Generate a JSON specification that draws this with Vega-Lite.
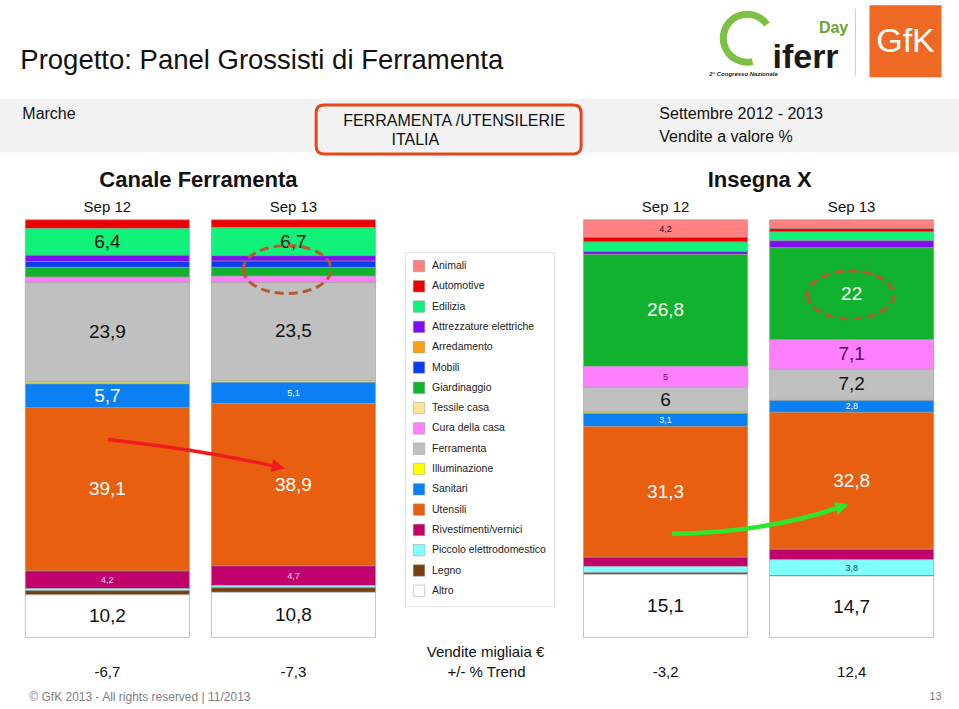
{
  "$schema": "https://vega.github.io/schema/vega-lite/v6.json",
  "width": 959,
  "height": 709,
  "autosize": {"type": "fit", "contains": "padding"},
  "padding": 0,
  "background": "white",
  "config": {
    "view": {"stroke": null},
    "font": "Liberation Sans",
    "locale": {"number": {"decimal": ",", "thousands": ".", "grouping": [3], "currency": ["", " €"], "minus": "-"}},
    "legend": {
      "orient": "none",
      "legendX": 405,
      "legendY": 248,
      "padding": 8,
      "strokeColor": "#e4e4e4",
      "symbolType": "square",
      "symbolSize": 132,
      "symbolStrokeColor": "#999999",
      "symbolStrokeWidth": 0.5,
      "symbolOpacity": 1,
      "labelFont": "Liberation Sans",
      "labelFontSize": 10.5,
      "labelColor": "#222222",
      "labelOffset": 7,
      "labelLimit": 220,
      "rowPadding": 6.3
    }
  },
  "datasets": {
    "segmenti": [
      {"bar": "CF Sep 12", "cat": "Automotive", "value": 2.1},
      {"bar": "CF Sep 12", "cat": "Edilizia", "value": 6.4},
      {"bar": "CF Sep 12", "cat": "Attrezzature elettriche", "value": 1.5},
      {"bar": "CF Sep 12", "cat": "Mobili", "value": 1.4},
      {"bar": "CF Sep 12", "cat": "Giardinaggio", "value": 2.3},
      {"bar": "CF Sep 12", "cat": "Cura della casa", "value": 1.3},
      {"bar": "CF Sep 12", "cat": "Ferramenta", "value": 23.9},
      {"bar": "CF Sep 12", "cat": "Illuminazione", "value": 0.4},
      {"bar": "CF Sep 12", "cat": "Sanitari", "value": 5.7},
      {"bar": "CF Sep 12", "cat": "Utensili", "value": 39.1},
      {"bar": "CF Sep 12", "cat": "Rivestimenti/vernici", "value": 4.2},
      {"bar": "CF Sep 12", "cat": "Piccolo elettrodomestico", "value": 0.5},
      {"bar": "CF Sep 12", "cat": "Legno", "value": 1.0},
      {"bar": "CF Sep 12", "cat": "Altro", "value": 10.2},
      {"bar": "CF Sep 13", "cat": "Automotive", "value": 1.9},
      {"bar": "CF Sep 13", "cat": "Edilizia", "value": 6.7},
      {"bar": "CF Sep 13", "cat": "Attrezzature elettriche", "value": 1.3},
      {"bar": "CF Sep 13", "cat": "Mobili", "value": 1.5},
      {"bar": "CF Sep 13", "cat": "Giardinaggio", "value": 2.1},
      {"bar": "CF Sep 13", "cat": "Cura della casa", "value": 1.5},
      {"bar": "CF Sep 13", "cat": "Ferramenta", "value": 23.5},
      {"bar": "CF Sep 13", "cat": "Illuminazione", "value": 0.4},
      {"bar": "CF Sep 13", "cat": "Sanitari", "value": 5.1},
      {"bar": "CF Sep 13", "cat": "Utensili", "value": 38.9},
      {"bar": "CF Sep 13", "cat": "Rivestimenti/vernici", "value": 4.7},
      {"bar": "CF Sep 13", "cat": "Piccolo elettrodomestico", "value": 0.5},
      {"bar": "CF Sep 13", "cat": "Legno", "value": 1.1},
      {"bar": "CF Sep 13", "cat": "Altro", "value": 10.8},
      {"bar": "IX Sep 12", "cat": "Animali", "value": 4.2},
      {"bar": "IX Sep 12", "cat": "Automotive", "value": 1.1},
      {"bar": "IX Sep 12", "cat": "Edilizia", "value": 2.3},
      {"bar": "IX Sep 12", "cat": "Attrezzature elettriche", "value": 0.7},
      {"bar": "IX Sep 12", "cat": "Giardinaggio", "value": 26.8},
      {"bar": "IX Sep 12", "cat": "Cura della casa", "value": 5},
      {"bar": "IX Sep 12", "cat": "Ferramenta", "value": 6},
      {"bar": "IX Sep 12", "cat": "Illuminazione", "value": 0.3},
      {"bar": "IX Sep 12", "cat": "Sanitari", "value": 3.1},
      {"bar": "IX Sep 12", "cat": "Utensili", "value": 31.3},
      {"bar": "IX Sep 12", "cat": "Rivestimenti/vernici", "value": 2.2},
      {"bar": "IX Sep 12", "cat": "Piccolo elettrodomestico", "value": 1.5},
      {"bar": "IX Sep 12", "cat": "Legno", "value": 0.4},
      {"bar": "IX Sep 12", "cat": "Altro", "value": 15.1},
      {"bar": "IX Sep 13", "cat": "Animali", "value": 2.1},
      {"bar": "IX Sep 13", "cat": "Automotive", "value": 0.8},
      {"bar": "IX Sep 13", "cat": "Edilizia", "value": 2.1},
      {"bar": "IX Sep 13", "cat": "Attrezzature elettriche", "value": 1.7},
      {"bar": "IX Sep 13", "cat": "Giardinaggio", "value": 22},
      {"bar": "IX Sep 13", "cat": "Cura della casa", "value": 7.1},
      {"bar": "IX Sep 13", "cat": "Ferramenta", "value": 7.2},
      {"bar": "IX Sep 13", "cat": "Illuminazione", "value": 0.3},
      {"bar": "IX Sep 13", "cat": "Sanitari", "value": 2.8},
      {"bar": "IX Sep 13", "cat": "Utensili", "value": 32.8},
      {"bar": "IX Sep 13", "cat": "Rivestimenti/vernici", "value": 2.5},
      {"bar": "IX Sep 13", "cat": "Piccolo elettrodomestico", "value": 3.8},
      {"bar": "IX Sep 13", "cat": "Legno", "value": 0.1},
      {"bar": "IX Sep 13", "cat": "Altro", "value": 14.7}
    ],
    "barre": [
      {"bar": "CF Sep 12", "periodo": "Sep 12", "trend": -6.7},
      {"bar": "CF Sep 13", "periodo": "Sep 13", "trend": -7.3},
      {"bar": "IX Sep 12", "periodo": "Sep 12", "trend": -3.2},
      {"bar": "IX Sep 13", "periodo": "Sep 13", "trend": 12.4}
    ]
  },
  "layer": [
    {
      "data": {"values": [{}]},
      "mark": {"type": "rect", "color": "#f2f2f2"},
      "encoding": {
        "x": {"value": 0},
        "x2": {"value": "width"},
        "y": {"datum": 129.05, "type": "quantitative", "scale": {"type": "linear", "domain": [-17.143, 151.667], "nice": false, "zero": false}, "axis": null},
        "y2": {"datum": 116.19}
      }
    },
    {
      "data": {"name": "segmenti"},
      "transform": [
        {"calculate": "indexof(['Animali','Automotive','Edilizia','Attrezzature elettriche','Arredamento','Mobili','Giardinaggio','Tessile casa','Cura della casa','Ferramenta','Illuminazione','Sanitari','Utensili','Rivestimenti/vernici','Piccolo elettrodomestico','Legno','Altro'], datum.cat)", "as": "ord"},
        {"stack": "value", "groupby": ["bar"], "sort": [{"field": "ord", "order": "descending"}], "as": ["v0", "v1"]}
      ],
      "mark": {"type": "bar", "stroke": "#9a9a9a", "strokeWidth": 0.6},
      "encoding": {
        "x": {"field": "bar", "type": "nominal", "scale": {"type": "band", "domain": ["CF Sep 12", "CF Sep 13", "legenda", "IX Sep 12", "IX Sep 13"], "paddingInner": 0.118, "paddingOuter": 0.136}, "axis": null},
        "y": {"field": "v0", "type": "quantitative", "scale": {"type": "linear", "domain": [-17.143, 151.667], "nice": false, "zero": false}, "axis": null},
        "y2": {"field": "v1"},
        "color": {
          "field": "cat",
          "type": "nominal",
          "scale": {
            "domain": ["Animali", "Automotive", "Edilizia", "Attrezzature elettriche", "Arredamento", "Mobili", "Giardinaggio", "Tessile casa", "Cura della casa", "Ferramenta", "Illuminazione", "Sanitari", "Utensili", "Rivestimenti/vernici", "Piccolo elettrodomestico", "Legno", "Altro"],
            "range": ["#ff8080", "#ee0000", "#10f27a", "#7d0ef2", "#f7a01a", "#0a3cf2", "#10b22e", "#fde595", "#ff80ff", "#c0c0c0", "#ffff00", "#0a80f4", "#e8600f", "#c0006b", "#80ffff", "#7a3f0f", "#ffffff"]
          },
          "legend": {"title": null}
        }
      }
    },
    {
      "data": {"name": "segmenti"},
      "transform": [
        {"calculate": "indexof(['Animali','Automotive','Edilizia','Attrezzature elettriche','Arredamento','Mobili','Giardinaggio','Tessile casa','Cura della casa','Ferramenta','Illuminazione','Sanitari','Utensili','Rivestimenti/vernici','Piccolo elettrodomestico','Legno','Altro'], datum.cat)", "as": "ord"},
        {"stack": "value", "groupby": ["bar"], "sort": [{"field": "ord", "order": "descending"}], "as": ["v0", "v1"]},
        {"filter": "datum.value >= 2.8"},
        {"calculate": "(datum.v0 + datum.v1) / 2", "as": "mid"}
      ],
      "mark": {"type": "text", "baseline": "middle", "align": "center", "font": "Liberation Sans"},
      "encoding": {
        "x": {"field": "bar", "type": "nominal", "scale": {"type": "band", "domain": ["CF Sep 12", "CF Sep 13", "legenda", "IX Sep 12", "IX Sep 13"], "paddingInner": 0.118, "paddingOuter": 0.136}, "axis": null},
        "y": {"field": "mid", "type": "quantitative", "scale": {"type": "linear", "domain": [-17.143, 151.667], "nice": false, "zero": false}, "axis": null},
        "text": {"field": "value", "type": "quantitative", "format": ".1~f"},
        "size": {"condition": {"test": "datum.value < 5.5", "value": 9}, "value": 19},
        "color": {
          "condition": [
            {"test": "datum.cat === 'Sanitari' || datum.cat === 'Utensili' || datum.cat === 'Giardinaggio'", "value": "#ffffff"},
            {"test": "datum.cat === 'Rivestimenti/vernici'", "value": "#ffd6f0"},
            {"test": "datum.cat === 'Cura della casa'", "value": "#5b0a5b"},
            {"test": "datum.cat === 'Piccolo elettrodomestico'", "value": "#204848"}
          ],
          "value": "#111111"
        }
      }
    },
    {
      "data": {"name": "barre"},
      "mark": {"type": "text", "baseline": "middle", "align": "center", "fontSize": 15, "color": "#111111"},
      "encoding": {
        "x": {"field": "bar", "type": "nominal", "scale": {"type": "band", "domain": ["CF Sep 12", "CF Sep 13", "legenda", "IX Sep 12", "IX Sep 13"], "paddingInner": 0.118, "paddingOuter": 0.136}, "axis": null},
        "y": {"datum": 103.1, "type": "quantitative", "scale": {"type": "linear", "domain": [-17.143, 151.667], "nice": false, "zero": false}, "axis": null},
        "text": {"field": "periodo"}
      }
    },
    {
      "data": {"name": "barre"},
      "mark": {"type": "text", "baseline": "middle", "align": "center", "fontSize": 15, "color": "#111111"},
      "encoding": {
        "x": {"field": "bar", "type": "nominal", "scale": {"type": "band", "domain": ["CF Sep 12", "CF Sep 13", "legenda", "IX Sep 12", "IX Sep 13"], "paddingInner": 0.118, "paddingOuter": 0.136}, "axis": null},
        "y": {"datum": -8.33, "type": "quantitative", "scale": {"type": "linear", "domain": [-17.143, 151.667], "nice": false, "zero": false}, "axis": null},
        "text": {"field": "trend", "type": "quantitative", "format": ".1~f"}
      }
    },
    {
      "data": {"values": [{}]},
      "mark": {"type": "text", "align": "left", "baseline": "middle", "fontSize": 27.5, "dx": -5, "color": "#111111", "text": "Progetto: Panel Grossisti di Ferramenta"},
      "encoding": {
        "x": {"datum": "CF Sep 12", "type": "nominal", "bandPosition": 0, "scale": {"type": "band", "domain": ["CF Sep 12", "CF Sep 13", "legenda", "IX Sep 12", "IX Sep 13"], "paddingInner": 0.118, "paddingOuter": 0.136}, "axis": null},
        "y": {"datum": 138.1, "type": "quantitative", "scale": {"type": "linear", "domain": [-17.143, 151.667], "nice": false, "zero": false}, "axis": null}
      }
    },
    {
      "data": {"values": [{}]},
      "mark": {"type": "text", "align": "left", "baseline": "middle", "fontSize": 16, "dx": -3, "color": "#111111", "text": "Marche"},
      "encoding": {
        "x": {"datum": "CF Sep 12", "type": "nominal", "bandPosition": 0, "scale": {"type": "band", "domain": ["CF Sep 12", "CF Sep 13", "legenda", "IX Sep 12", "IX Sep 13"], "paddingInner": 0.118, "paddingOuter": 0.136}, "axis": null},
        "y": {"datum": 125.24, "type": "quantitative", "scale": {"type": "linear", "domain": [-17.143, 151.667], "nice": false, "zero": false}, "axis": null}
      }
    },
    {
      "data": {"values": [{}]},
      "mark": {"type": "text", "align": "left", "baseline": "middle", "fontSize": 16, "color": "#111111", "text": "FERRAMENTA /UTENSILERIE"},
      "encoding": {
        "x": {"datum": "CF Sep 13", "type": "nominal", "bandPosition": 0.803, "scale": {"type": "band", "domain": ["CF Sep 12", "CF Sep 13", "legenda", "IX Sep 12", "IX Sep 13"], "paddingInner": 0.118, "paddingOuter": 0.136}, "axis": null},
        "y": {"datum": 123.57, "type": "quantitative", "scale": {"type": "linear", "domain": [-17.143, 151.667], "nice": false, "zero": false}, "axis": null}
      }
    },
    {
      "data": {"values": [{}]},
      "mark": {"type": "text", "align": "left", "baseline": "middle", "fontSize": 16, "dx": -6, "color": "#111111", "text": "ITALIA"},
      "encoding": {
        "x": {"datum": "legenda", "type": "nominal", "bandPosition": 0, "scale": {"type": "band", "domain": ["CF Sep 12", "CF Sep 13", "legenda", "IX Sep 12", "IX Sep 13"], "paddingInner": 0.118, "paddingOuter": 0.136}, "axis": null},
        "y": {"datum": 119.05, "type": "quantitative", "scale": {"type": "linear", "domain": [-17.143, 151.667], "nice": false, "zero": false}, "axis": null}
      }
    },
    {
      "data": {"values": [{}]},
      "mark": {"type": "point", "shape": "M-0.94,-0.185L0.94,-0.185Q1,-0.185 1,-0.125L1,0.125Q1,0.185 0.94,0.185L-0.94,0.185Q-1,0.185 -1,0.125L-1,-0.125Q-1,-0.185 -0.94,-0.185Z", "size": 70225, "filled": false, "stroke": "#e5461b", "strokeWidth": 3, "opacity": 1},
      "encoding": {
        "x": {"datum": "legenda", "type": "nominal", "bandPosition": 0.312, "scale": {"type": "band", "domain": ["CF Sep 12", "CF Sep 13", "legenda", "IX Sep 12", "IX Sep 13"], "paddingInner": 0.118, "paddingOuter": 0.136}, "axis": null},
        "y": {"datum": 121.62, "type": "quantitative", "scale": {"type": "linear", "domain": [-17.143, 151.667], "nice": false, "zero": false}, "axis": null}
      }
    },
    {
      "data": {"values": [{}]},
      "mark": {"type": "text", "align": "left", "baseline": "middle", "fontSize": 16, "color": "#111111", "text": "Settembre  2012 - 2013"},
      "encoding": {
        "x": {"datum": "IX Sep 12", "type": "nominal", "bandPosition": 0.462, "scale": {"type": "band", "domain": ["CF Sep 12", "CF Sep 13", "legenda", "IX Sep 12", "IX Sep 13"], "paddingInner": 0.118, "paddingOuter": 0.136}, "axis": null},
        "y": {"datum": 125.24, "type": "quantitative", "scale": {"type": "linear", "domain": [-17.143, 151.667], "nice": false, "zero": false}, "axis": null}
      }
    },
    {
      "data": {"values": [{}]},
      "mark": {"type": "text", "align": "left", "baseline": "middle", "fontSize": 16, "color": "#111111", "text": "Vendite a valore %"},
      "encoding": {
        "x": {"datum": "IX Sep 12", "type": "nominal", "bandPosition": 0.462, "scale": {"type": "band", "domain": ["CF Sep 12", "CF Sep 13", "legenda", "IX Sep 12", "IX Sep 13"], "paddingInner": 0.118, "paddingOuter": 0.136}, "axis": null},
        "y": {"datum": 119.76, "type": "quantitative", "scale": {"type": "linear", "domain": [-17.143, 151.667], "nice": false, "zero": false}, "axis": null}
      }
    },
    {
      "data": {"values": [{}]},
      "mark": {"type": "text", "align": "center", "baseline": "middle", "fontSize": 22, "fontWeight": "bold", "dx": 9, "color": "#111111", "text": "Canale Ferramenta"},
      "encoding": {
        "x": {"datum": "CF Sep 12", "type": "nominal", "bandPosition": 1, "scale": {"type": "band", "domain": ["CF Sep 12", "CF Sep 13", "legenda", "IX Sep 12", "IX Sep 13"], "paddingInner": 0.118, "paddingOuter": 0.136}, "axis": null},
        "y": {"datum": 109.64, "type": "quantitative", "scale": {"type": "linear", "domain": [-17.143, 151.667], "nice": false, "zero": false}, "axis": null}
      }
    },
    {
      "data": {"values": [{}]},
      "mark": {"type": "text", "align": "center", "baseline": "middle", "fontSize": 22, "fontWeight": "bold", "dx": 12, "color": "#111111", "text": "Insegna X"},
      "encoding": {
        "x": {"datum": "IX Sep 12", "type": "nominal", "bandPosition": 1, "scale": {"type": "band", "domain": ["CF Sep 12", "CF Sep 13", "legenda", "IX Sep 12", "IX Sep 13"], "paddingInner": 0.118, "paddingOuter": 0.136}, "axis": null},
        "y": {"datum": 109.64, "type": "quantitative", "scale": {"type": "linear", "domain": [-17.143, 151.667], "nice": false, "zero": false}, "axis": null}
      }
    },
    {
      "data": {"values": [{}]},
      "mark": {"type": "text", "align": "center", "baseline": "middle", "fontSize": 15, "dx": 6, "color": "#111111", "text": "Vendite  migliaia €"},
      "encoding": {
        "x": {"datum": "legenda", "type": "nominal", "bandPosition": 0.5, "scale": {"type": "band", "domain": ["CF Sep 12", "CF Sep 13", "legenda", "IX Sep 12", "IX Sep 13"], "paddingInner": 0.118, "paddingOuter": 0.136}, "axis": null},
        "y": {"datum": -3.57, "type": "quantitative", "scale": {"type": "linear", "domain": [-17.143, 151.667], "nice": false, "zero": false}, "axis": null}
      }
    },
    {
      "data": {"values": [{}]},
      "mark": {"type": "text", "align": "center", "baseline": "middle", "fontSize": 15, "dx": 7, "color": "#111111", "text": "+/- % Trend"},
      "encoding": {
        "x": {"datum": "legenda", "type": "nominal", "bandPosition": 0.5, "scale": {"type": "band", "domain": ["CF Sep 12", "CF Sep 13", "legenda", "IX Sep 12", "IX Sep 13"], "paddingInner": 0.118, "paddingOuter": 0.136}, "axis": null},
        "y": {"datum": -8.33, "type": "quantitative", "scale": {"type": "linear", "domain": [-17.143, 151.667], "nice": false, "zero": false}, "axis": null}
      }
    },
    {
      "data": {"values": [{}]},
      "mark": {"type": "text", "align": "left", "baseline": "middle", "fontSize": 12, "dx": 4, "color": "#808080", "text": "© GfK 2013 - All rights reserved | 11/2013"},
      "encoding": {
        "x": {"datum": "CF Sep 12", "type": "nominal", "bandPosition": 0, "scale": {"type": "band", "domain": ["CF Sep 12", "CF Sep 13", "legenda", "IX Sep 12", "IX Sep 13"], "paddingInner": 0.118, "paddingOuter": 0.136}, "axis": null},
        "y": {"datum": -14.29, "type": "quantitative", "scale": {"type": "linear", "domain": [-17.143, 151.667], "nice": false, "zero": false}, "axis": null}
      }
    },
    {
      "data": {"values": [{}]},
      "mark": {"type": "text", "align": "right", "baseline": "middle", "fontSize": 11, "dx": 8, "color": "#808080", "text": "13"},
      "encoding": {
        "x": {"datum": "IX Sep 13", "type": "nominal", "bandPosition": 1, "scale": {"type": "band", "domain": ["CF Sep 12", "CF Sep 13", "legenda", "IX Sep 12", "IX Sep 13"], "paddingInner": 0.118, "paddingOuter": 0.136}, "axis": null},
        "y": {"datum": -14.29, "type": "quantitative", "scale": {"type": "linear", "domain": [-17.143, 151.667], "nice": false, "zero": false}, "axis": null}
      }
    },
    {
      "data": {"values": [{}]},
      "mark": {"type": "point", "shape": "M-1,0A1,0.545,0,1,0,1,0A1,0.545,0,1,0,-1,0Z", "size": 7744, "filled": false, "stroke": "#b85a2e", "strokeWidth": 3, "strokeDash": [9, 5], "opacity": 1},
      "encoding": {
        "x": {"datum": "CF Sep 13", "type": "nominal", "bandPosition": 0.462, "scale": {"type": "band", "domain": ["CF Sep 12", "CF Sep 13", "legenda", "IX Sep 12", "IX Sep 13"], "paddingInner": 0.118, "paddingOuter": 0.136}, "axis": null},
        "y": {"datum": 88.1, "type": "quantitative", "scale": {"type": "linear", "domain": [-17.143, 151.667], "nice": false, "zero": false}, "axis": null}
      }
    },
    {
      "data": {"values": [{}]},
      "mark": {"type": "point", "shape": "M-1,0A1,0.558,0,1,0,1,0A1,0.558,0,1,0,-1,0Z", "size": 7396, "filled": false, "stroke": "#b85a2e", "strokeWidth": 3, "strokeDash": [9, 5], "opacity": 1},
      "encoding": {
        "x": {"datum": "IX Sep 13", "type": "nominal", "bandPosition": 0.493, "scale": {"type": "band", "domain": ["CF Sep 12", "CF Sep 13", "legenda", "IX Sep 12", "IX Sep 13"], "paddingInner": 0.118, "paddingOuter": 0.136}, "axis": null},
        "y": {"datum": 82.02, "type": "quantitative", "scale": {"type": "linear", "domain": [-17.143, 151.667], "nice": false, "zero": false}, "axis": null}
      }
    },
    {
      "data": {"values": [{}]},
      "mark": {"type": "point", "shape": "M-1,-0.164Q0,-0.056 0.853,0.132", "size": 31329, "filled": false, "stroke": "#ee1c1c", "strokeWidth": 3.5, "opacity": 1},
      "encoding": {
        "x": {"datum": "CF Sep 12", "type": "nominal", "bandPosition": 1.043, "scale": {"type": "band", "domain": ["CF Sep 12", "CF Sep 13", "legenda", "IX Sep 12", "IX Sep 13"], "paddingInner": 0.118, "paddingOuter": 0.136}, "axis": null},
        "y": {"datum": 43.93, "type": "quantitative", "scale": {"type": "linear", "domain": [-17.143, 151.667], "nice": false, "zero": false}, "axis": null}
      }
    },
    {
      "data": {"values": [{}]},
      "mark": {"type": "point", "shape": "M1,0.164L0.837,0.205L0.869,0.059Z", "size": 31329, "filled": true, "color": "#ee1c1c", "opacity": 1},
      "encoding": {
        "x": {"datum": "CF Sep 12", "type": "nominal", "bandPosition": 1.043, "scale": {"type": "band", "domain": ["CF Sep 12", "CF Sep 13", "legenda", "IX Sep 12", "IX Sep 13"], "paddingInner": 0.118, "paddingOuter": 0.136}, "axis": null},
        "y": {"datum": 43.93, "type": "quantitative", "scale": {"type": "linear", "domain": [-17.143, 151.667], "nice": false, "zero": false}, "axis": null}
      }
    },
    {
      "data": {"values": [{}]},
      "mark": {"type": "point", "shape": "M-1,0.166Q0,0.158 0.857,-0.12", "size": 31187, "filled": false, "stroke": "#2ee62e", "strokeWidth": 4.5, "opacity": 1},
      "encoding": {
        "x": {"datum": "IX Sep 12", "type": "nominal", "bandPosition": 1.077, "scale": {"type": "band", "domain": ["CF Sep 12", "CF Sep 13", "legenda", "IX Sep 12", "IX Sep 13"], "paddingInner": 0.118, "paddingOuter": 0.136}, "axis": null},
        "y": {"datum": 28.33, "type": "quantitative", "scale": {"type": "linear", "domain": [-17.143, 151.667], "nice": false, "zero": false}, "axis": null}
      }
    },
    {
      "data": {"values": [{}]},
      "mark": {"type": "point", "shape": "M1,-0.166L0.88,-0.049L0.834,-0.191Z", "size": 31187, "filled": true, "color": "#2ee62e", "opacity": 1},
      "encoding": {
        "x": {"datum": "IX Sep 12", "type": "nominal", "bandPosition": 1.077, "scale": {"type": "band", "domain": ["CF Sep 12", "CF Sep 13", "legenda", "IX Sep 12", "IX Sep 13"], "paddingInner": 0.118, "paddingOuter": 0.136}, "axis": null},
        "y": {"datum": 28.33, "type": "quantitative", "scale": {"type": "linear", "domain": [-17.143, 151.667], "nice": false, "zero": false}, "axis": null}
      }
    },
    {
      "data": {"values": [{}]},
      "mark": {"type": "point", "shape": "square", "size": 5184, "filled": true, "color": "#ee6a24", "opacity": 1},
      "encoding": {
        "x": {"datum": "IX Sep 13", "type": "nominal", "bandPosition": 0.828, "scale": {"type": "band", "domain": ["CF Sep 12", "CF Sep 13", "legenda", "IX Sep 12", "IX Sep 13"], "paddingInner": 0.118, "paddingOuter": 0.136}, "axis": null},
        "y": {"datum": 142.74, "type": "quantitative", "scale": {"type": "linear", "domain": [-17.143, 151.667], "nice": false, "zero": false}, "axis": null}
      }
    },
    {
      "data": {"values": [{}]},
      "mark": {"type": "text", "align": "center", "baseline": "middle", "fontSize": 34, "color": "#ffffff", "text": "GfK"},
      "encoding": {
        "x": {"datum": "IX Sep 13", "type": "nominal", "bandPosition": 0.828, "scale": {"type": "band", "domain": ["CF Sep 12", "CF Sep 13", "legenda", "IX Sep 12", "IX Sep 13"], "paddingInner": 0.118, "paddingOuter": 0.136}, "axis": null},
        "y": {"datum": 142.5, "type": "quantitative", "scale": {"type": "linear", "domain": [-17.143, 151.667], "nice": false, "zero": false}, "axis": null}
      }
    },
    {
      "data": {"values": [{}]},
      "mark": {"type": "rule", "color": "#cccccc", "strokeWidth": 1},
      "encoding": {
        "x": {"datum": "IX Sep 13", "type": "nominal", "bandPosition": 0.523, "scale": {"type": "band", "domain": ["CF Sep 12", "CF Sep 13", "legenda", "IX Sep 12", "IX Sep 13"], "paddingInner": 0.118, "paddingOuter": 0.136}, "axis": null},
        "y": {"datum": 150.5, "type": "quantitative", "scale": {"type": "linear", "domain": [-17.143, 151.667], "nice": false, "zero": false}, "axis": null},
        "y2": {"datum": 134.5}
      }
    },
    {
      "data": {"values": [{}]},
      "mark": {"type": "text", "align": "center", "baseline": "alphabetic", "fontSize": 34, "fontWeight": "bold", "color": "#1a1a1a", "text": "iferr"},
      "encoding": {
        "x": {"datum": "IX Sep 13", "type": "nominal", "bandPosition": 0.219, "scale": {"type": "band", "domain": ["CF Sep 12", "CF Sep 13", "legenda", "IX Sep 12", "IX Sep 13"], "paddingInner": 0.118, "paddingOuter": 0.136}, "axis": null},
        "y": {"datum": 136.4, "type": "quantitative", "scale": {"type": "linear", "domain": [-17.143, 151.667], "nice": false, "zero": false}, "axis": null}
      }
    },
    {
      "data": {"values": [{}]},
      "mark": {"type": "text", "align": "center", "baseline": "middle", "fontSize": 16, "fontWeight": "bold", "color": "#6aa62a", "text": "Day"},
      "encoding": {
        "x": {"datum": "IX Sep 13", "type": "nominal", "bandPosition": 0.39, "scale": {"type": "band", "domain": ["CF Sep 12", "CF Sep 13", "legenda", "IX Sep 12", "IX Sep 13"], "paddingInner": 0.118, "paddingOuter": 0.136}, "axis": null},
        "y": {"datum": 146.0, "type": "quantitative", "scale": {"type": "linear", "domain": [-17.143, 151.667], "nice": false, "zero": false}, "axis": null}
      }
    },
    {
      "data": {"values": [{}]},
      "mark": {"type": "text", "align": "right", "baseline": "middle", "fontSize": 6, "fontWeight": "bold", "fontStyle": "italic", "color": "#222222", "text": "2° Congresso Nazionale"},
      "encoding": {
        "x": {"datum": "IX Sep 13", "type": "nominal", "bandPosition": 0.05, "scale": {"type": "band", "domain": ["CF Sep 12", "CF Sep 13", "legenda", "IX Sep 12", "IX Sep 13"], "paddingInner": 0.118, "paddingOuter": 0.136}, "axis": null},
        "y": {"datum": 134.8, "type": "quantitative", "scale": {"type": "linear", "domain": [-17.143, 151.667], "nice": false, "zero": false}, "axis": null}
      }
    },
    {
      "data": {"values": [{}]},
      "mark": {"type": "point", "shape": "M0.9,-0.6A1,1,0,1,0,0.3,0.95", "size": 2304, "filled": false, "stroke": "#7cc242", "strokeWidth": 7, "opacity": 1},
      "encoding": {
        "x": {"datum": "IX Sep 12", "type": "nominal", "bandPosition": 0.986, "scale": {"type": "band", "domain": ["CF Sep 12", "CF Sep 13", "legenda", "IX Sep 12", "IX Sep 13"], "paddingInner": 0.118, "paddingOuter": 0.136}, "axis": null},
        "y": {"datum": 143.33, "type": "quantitative", "scale": {"type": "linear", "domain": [-17.143, 151.667], "nice": false, "zero": false}, "axis": null}
      }
    }
  ]
}
